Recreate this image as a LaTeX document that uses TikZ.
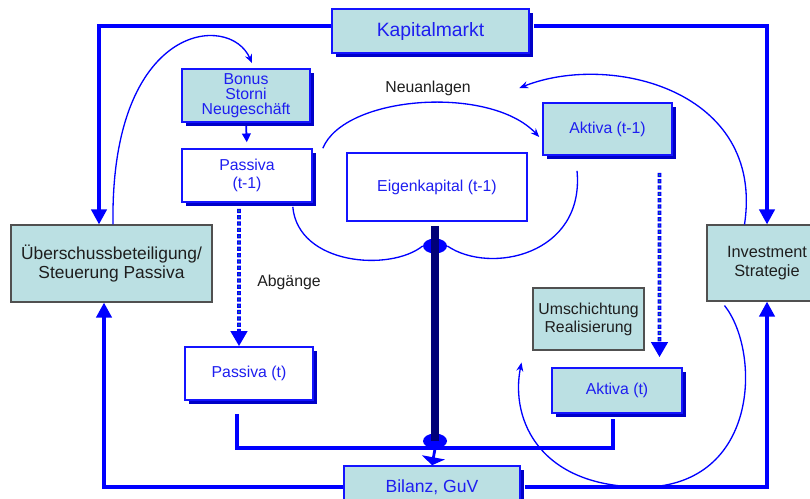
\documentclass[tikz,border=0pt]{standalone}
\usepackage{fontspec}
\setmainfont{Liberation Sans}
\usepackage{xcolor}
\usetikzlibrary{arrows.meta,shapes.geometric,shadows,calc}
\definecolor{boxfill}{RGB}{187,224,227}
\definecolor{boxblue}{RGB}{20,20,255}
\definecolor{shadowblue}{RGB}{0,0,200}
\definecolor{labelblue}{RGB}{30,30,240}
\definecolor{linkblue}{RGB}{0,0,255}
\definecolor{boxgray}{RGB}{80,80,80}
\definecolor{textblack}{RGB}{30,30,30}
\definecolor{navyline}{RGB}{0,0,120}
\definecolor{dotgreen}{RGB}{40,150,90}

\begin{document}
\begin{tikzpicture}[x=0.02cm,y=-0.02cm,
	box/.style={draw=boxblue,line width=0.9pt,fill=boxfill,text=labelblue,align=center,inner sep=1pt,font=\fontsize{9}{10}\selectfont},
	whitebox/.style={box,fill=white},
	shadowed/.style={drop shadow={shadow xshift=0.08cm,shadow yshift=-0.08cm,fill=shadowblue,opacity=1}},
	graybox/.style={draw=boxgray,line width=0.6pt,fill=boxfill,text=textblack,align=center,inner sep=1pt,font=\fontsize{9.3}{11.3}\selectfont},
	plain/.style={text=textblack,font=\fontsize{9}{10}\selectfont},
	flow/.style={draw=linkblue,line width=2.3pt},
	flowarrow/.style={flow,-{Triangle[width=0.3cm,length=0.3cm]}},
	loop/.style={draw=linkblue,line width=0.75pt},
	looparrow/.style={loop,-{Stealth[length=5pt,width=4pt]}},
	dotarrow/.style={draw=linkblue,line width=2.2pt,dash pattern=on 2.4pt off 1.2pt,-{Triangle[width=0.32cm,length=0.3cm]},
		postaction={draw=dotgreen,line width=0.7pt,dash pattern=on 1pt off 2.6pt,dash phase=2.9pt,-,shorten >=0.32cm}},
	blob/.style={ellipse,fill=linkblue,minimum width=0.48cm,minimum height=0.3cm,inner sep=0pt}]
	\useasboundingbox (0,0) rectangle (810,498);

	\node[box,shadowed,minimum width=3.94cm,minimum height=0.88cm,font=\fontsize{11}{13}\selectfont] (kapital) at (430.5,31) {Kapitalmarkt};
	\node[box,shadowed,minimum width=2.56cm,minimum height=1.06cm,font=\fontsize{9}{8.6}\selectfont] (bonus) at (246,95.5) {Bonus\\Storni\\Neugeschäft};
	\node[whitebox,shadowed,minimum width=2.6cm,minimum height=1.06cm] (passivaA) at (247,175.5) {Passiva\\(t-1)};
	\node[graybox,minimum width=4.02cm,minimum height=1.54cm,font=\fontsize{9.9}{11.3}\selectfont] (ueber) at (111.5,263.5) {Überschussbeteiligung/\\Steuerung Passiva};
	\node[whitebox,shadowed,minimum width=2.56cm,minimum height=1.06cm] (passivaB) at (249,373.5) {Passiva (t)};
	\node[whitebox,minimum width=3.6cm,minimum height=1.36cm] (eigen) at (437,187) {Eigenkapital (t-1)};
	\node[box,shadowed,minimum width=2.58cm,minimum height=1.04cm] (aktivaA) at (607.5,129) {Aktiva (t-1)};
	\node[graybox,minimum width=2.22cm,minimum height=1.24cm,font=\fontsize{9}{10.2}\selectfont] (umsch) at (588.5,319) {Umschichtung\\Realisierung};
	\node[box,shadowed,minimum width=2.6cm,minimum height=0.9cm] (aktivaB) at (617,390.5) {Aktiva (t)};
	\node[graybox,minimum width=2.4cm,minimum height=1.52cm] (invest) at (767,263) {Investment\\Strategie};
	\node[box,shadowed,minimum width=3.52cm,minimum height=0.84cm,font=\fontsize{10}{12}\selectfont] (bilanz) at (432,487) {Bilanz, GuV};
	\node[plain] (neu) at (428,88) {Neuanlagen};
	\node[plain] (abg) at (289,282) {Abgänge};
	\node[blob] (knotA) at (435,246) {};
	\node[blob] (knotB) at (435,441) {};

	\draw[flowarrow] ([yshift=0.1cm]kapital.west) -| ([xshift=-0.25cm]ueber.north);
	\draw[flowarrow] ([xshift=0.08cm,yshift=0.1cm]kapital.east) -| (invest.north);
	\draw[flowarrow] (bilanz.west) -| ([xshift=-0.15cm]ueber.south);
	\draw[flowarrow] ([xshift=0.08cm]bilanz.east) -| (invest.south);
	\draw[flow] ([xshift=-0.24cm,yshift=-0.26cm]passivaB.south) -- ++(0,34) -| ([xshift=-0.08cm,yshift=-0.1cm]aktivaB.south);
	\draw[draw=navyline,line width=4pt,shorten <=0.08cm] (eigen.south -| knotA.center) -- (knotB.center);
	\draw[draw=linkblue,line width=1.6pt,-{Triangle[width=0.46cm,length=0.16cm]}] (knotB.south) -- (bilanz.north);
	\draw[draw=linkblue,line width=1pt,-{Triangle[width=5pt,length=5pt]},shorten <=0.06cm,shorten >=0.12cm] (bonus.south) -- (passivaA.north);

	\draw[dotarrow] ([xshift=-0.16cm,yshift=-0.12cm]passivaA.south) -- ([xshift=-0.2cm]passivaB.north);
	\draw[dotarrow] ([xshift=1.04cm,yshift=-0.34cm]aktivaA.south) -- ([xshift=0.85cm,yshift=0.2cm]aktivaB.north);

	\draw[looparrow] ([xshift=0.03cm]ueber.north) .. controls (110,22) and (230,12) .. ([xshift=0.12cm,yshift=0.1cm]bonus.north);
	\draw[looparrow] ([xshift=0.2cm]passivaA.north east) .. controls (345,95) and (490,85) .. ([xshift=-0.06cm,yshift=-0.16cm]aktivaA.west);
	\draw[loop] ([xshift=-0.4cm,yshift=-0.08cm]passivaA.south east) .. controls (298,265) and (390,272) .. (knotA.west);
	\draw[loop] (knotA.east) .. controls (490,275) and (585,255) .. ([xshift=-0.61cm,yshift=-0.3cm]aktivaA.south);
	\draw[looparrow] ([xshift=0.76cm]invest.north west) .. controls (765,90) and (610,52) .. ([xshift=0.85cm]neu.east);
	\draw[looparrow] ([xshift=0.36cm,yshift=-0.08cm]invest.south west) .. controls (760,350) and (760,480) .. (650,487) .. controls (540,490) and (510,420) .. ([xshift=-0.22cm,yshift=-0.24cm]umsch.south west);
\end{tikzpicture}
\end{document}
